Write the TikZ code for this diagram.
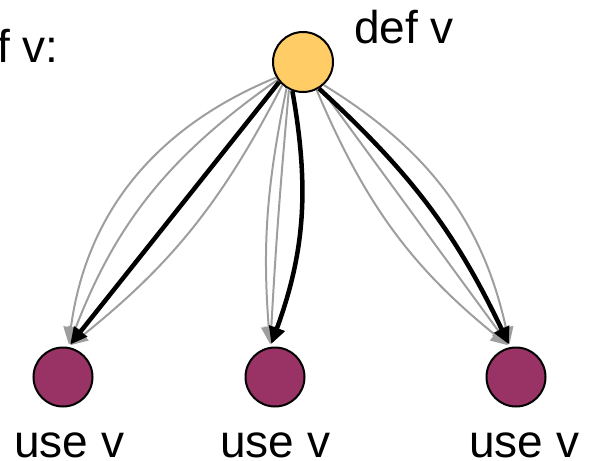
\documentclass[tikz,border=0pt]{standalone}
\usepackage{fontspec}
\setmainfont{Liberation Sans}
\usetikzlibrary{arrows.meta}
\definecolor{defyellow}{HTML}{FFCC66}
\definecolor{usepurple}{HTML}{993366}
\definecolor{edgegray}{HTML}{9E9E9E}
\begin{document}
\begin{tikzpicture}[x=1pt,y=-1pt,
  defnode/.style={circle,draw=black,line width=2pt,fill=defyellow,minimum size=60pt,inner sep=0pt},
  usenode/.style={circle,draw=black,line width=2pt,fill=usepurple,minimum size=59pt,inner sep=0pt},
  lbl/.style={font=\fontsize{46}{50}\selectfont,inner sep=0pt},
  grayedge/.style={draw=edgegray,line width=2pt,-{Triangle[length=17pt,width=15pt]},shorten >=3pt},
  boldedge/.style={draw=black,line width=4.5pt,-{Triangle[length=17pt,width=16pt]},shorten >=3pt}]
\useasboundingbox (0,0) rectangle (590,461);
\clip (0,0) rectangle (590,461);
\node[defnode] (d) at (303,62) {};
\node[usenode] (u1) at (63,377) {};
\node[usenode] (u2) at (275,377) {};
\node[usenode] (u3) at (516,377) {};
\node[lbl,anchor=base west] (tdef) at (354,43) {def v};
\node[lbl,anchor=base east] (ttop) at (59,62) {def v:};
\node[lbl,anchor=base west] (t1) at (14,457) {use v};
\node[lbl,anchor=base west] (t2) at (220,457) {use v};
\node[lbl,anchor=base west] (t3) at (469,457) {use v};
% gray edges
\draw[grayedge] (d.210) to[bend right=30] (u1.80);
\draw[grayedge] (d.215) to[bend right=17] (u1.80);
\draw[grayedge] (d.228) to[bend left=12] (u1.80);
\draw[grayedge] (d.238) to[bend right=8] (u2.99);
\draw[grayedge] (d.243) to[bend right=1] (u2.99);
\draw[grayedge] (d.296) to[bend right=14] (u3.101);
\draw[grayedge] (d.304) to (u3.101);
\draw[grayedge] (d.312) to[bend left=23] (u3.101);
% bold edges
\draw[boldedge] (d.220) to (u1.80);
\draw[boldedge] (d.250) to[bend left=15] (u2.99);
\draw[boldedge] (d.301) to[bend left=11] (u3.101);
\end{tikzpicture}
\end{document}
